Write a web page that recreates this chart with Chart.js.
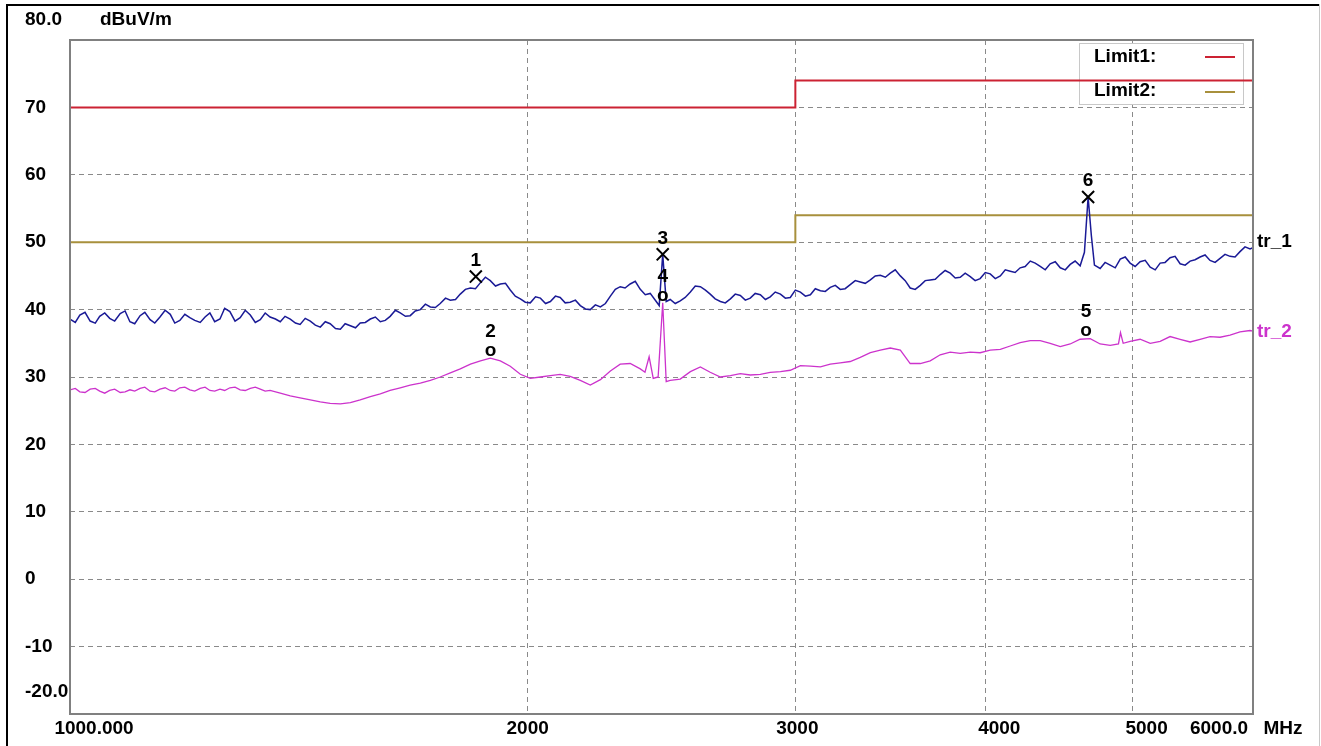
<!DOCTYPE html>
<html><head><meta charset="utf-8">
<script src="https://cdn.jsdelivr.net/npm/chart.js@4.4.1/dist/chart.umd.min.js"></script>
<style>html,body{margin:0;padding:0;background:#fff;overflow:hidden}canvas{display:block}</style>
</head><body>
<canvas id="c" width="1321" height="746"></canvas>
<script>
// ---- data ----
const freq1 = [1000,1015,1031,1046,1062,1079,1095,1112,1129,1146,1164,1181,1199,1218,1236,1255,1274,1294,1314,1334,1354,1375,1396,1417,1439,1461,1483,1506,1529,1552,1576,1600,1624,1649,1674,1700,1726,1752,1779,1806,1834,1862,1890,1919,1948,1978,2008,2039,2070,2101,2133,2166,2199,2233,2267,2301,2336,2372,2408,
  2441,2454,2467,
  2482,2520,2559,2598,2637,2678,2719,2760,2802,2845,2888,2933,2977,3023,3069,3116,3163,3211,3260,3310,3361,3412,3464,3517,3570,3625,3680,3736,3793,3851,3910,3969,4030,4092,4154,4217,4282,4347,4413,4481,4549,4618,
  4648,4674,4697,4719,
  4760,4833,4907,4981,5057,5135,5213,5292,5373,5455,5538,5622,5708,5795,5883,5973,6000];
const level1 = [38.6,39.2,38.3,39.0,38.7,39.4,38.2,39.1,38.5,38.9,39.3,38.4,38.8,38.1,39.5,38.6,39.7,38.8,39.2,38.5,38.9,38.2,38.6,37.8,38.3,37.4,37.9,37.1,37.6,38.0,38.6,38.2,39.0,39.5,39.1,40.0,40.4,40.9,41.4,42.3,43.2,44.0,44.3,43.8,42.9,41.6,41.0,41.7,41.2,41.8,41.1,40.6,40.0,40.4,42.0,43.4,43.8,43.0,42.4,
  40.6,48.2,41.2,
  41.5,41.3,42.6,43.4,42.3,41.2,41.6,42.1,41.7,42.2,41.9,42.3,41.8,42.6,42.2,42.8,43.3,43.0,43.7,44.1,44.4,45.1,45.4,45.0,43.2,43.6,44.4,45.2,45.4,44.8,44.9,44.6,45.3,45.0,45.7,46.2,47.2,46.4,46.8,46.2,46.7,46.5,
  48.5,56.7,51.0,46.6,
  46.1,46.6,47.5,46.9,47.1,46.3,46.9,47.7,46.8,47.2,47.8,47.3,47.6,47.9,48.6,49.0,49.2];
// in-between readings of the noisy peak trace
const freq1Fine = [1008,1023,1039,1054,1070,1087,1103,1120,1137,1155,1172,1190,1208,1227,1245,1264,1284,1304,1324,1344,1365,1385,1407,1428,1450,1472,1495,1517,1541,1564,1588,1612,1637,1662,1687,1713,1739,1766,1793,1820,1848,1876,1905,1934,1963,1993,2024,2055,2086,2117,2150,2183,2216,2250,2284,2318,2354,2390,
  2501,2539,2578,2618,2657,2698,2739,2781,2823,2867,2910,2955,3000,3046,3092,3139,3187,3235,3285,3335,3386,3438,3490,3543,3597,3652,3708,3764,3822,3880,3939,4000,4061,4123,4185,4249,4314,4380,4447,4515,4583,
  4796,4870,4944,5019,5096,5174,5252,5332,5414,5496,5580,5665,5751,5839,5928];
const level1Fine = [38.1,39.6,38.0,39.5,38.3,39.8,37.9,39.6,38.0,39.9,38.0,39.3,38.4,38.9,38.2,40.2,38.3,39.9,38.1,39.5,38.6,39.0,38.0,38.7,37.7,38.2,37.2,37.9,37.3,38.1,38.9,38.4,39.9,39.0,39.8,40.8,40.3,41.7,41.5,43.0,43.1,44.8,43.5,43.9,42.0,41.1,41.9,40.9,42.0,41.0,41.4,40.1,40.7,40.9,43.0,43.2,44.2,42.2,
  40.9,41.8,43.5,42.9,41.6,41.0,42.3,41.4,42.4,41.5,42.6,41.7,42.9,42.0,43.1,42.7,43.6,43.1,44.3,43.9,45.0,44.8,45.9,44.3,43.0,44.3,44.5,45.8,44.7,45.4,44.3,45.5,44.6,45.9,45.5,46.4,46.9,45.9,47.1,45.9,47.2,
  47.0,46.2,47.8,46.4,47.3,45.9,47.0,47.9,46.6,47.4,48.1,47.0,48.2,47.8,49.3];

const freq2 = [1000,1015,1031,1046,1062,1079,1095,1112,1129,1146,1164,1181,1199,1218,1236,1255,1274,1294,1314,1334,1354,1375,1396,1417,1439,1461,1483,1506,1529,1552,1576,1600,1624,1649,1674,1700,1726,1752,1779,1806,1834,1862,1890,1919,1948,1978,2008,2039,2070,2101,2133,2166,2199,2233,2267,2301,2336,2372,
  2389,2404,2419,2437,2454,2467,
  2482,2520,2559,2598,2637,2678,2719,2760,2802,2845,2888,2933,2977,3023,3069,3116,3163,3211,3260,3310,3361,3412,3464,3517,3570,3625,3680,3736,3793,3851,3910,3969,4030,4092,4154,4217,4282,4347,4413,4481,4549,4618,
  4689,4760,4833,4894,4909,4929,
  4981,5057,5135,5213,5292,5373,5455,5538,5622,5708,5795,5883,5973,6000];
const level2 = [28.1,27.8,28.2,27.9,28.0,27.7,28.1,28.3,27.9,28.2,28.0,28.4,28.1,28.3,28.0,28.2,28.4,28.1,28.3,28.2,28.0,27.6,27.2,26.9,26.6,26.3,26.1,26.0,26.2,26.6,27.1,27.5,28.0,28.4,28.8,29.1,29.5,30.0,30.6,31.2,31.9,32.4,32.8,32.4,31.6,30.4,29.8,30.0,30.2,30.4,30.1,29.5,28.8,29.6,30.9,31.9,32.0,31.2,
  30.7,33.0,29.8,30.0,41.0,29.3,
  29.5,29.7,30.8,31.5,30.7,30.0,30.2,30.5,30.3,30.4,30.7,30.8,31.0,31.7,31.6,31.5,31.9,32.1,32.3,32.9,33.6,34.0,34.3,34.0,32.0,32.0,32.4,33.3,33.7,33.5,33.7,33.6,34.0,34.1,34.6,35.1,35.4,35.4,35.0,34.5,34.9,35.6,
  35.7,34.9,34.7,34.9,36.6,35.0,
  35.3,35.6,35.0,35.3,36.0,35.6,35.2,35.6,36.0,35.9,36.2,36.7,36.9,36.8];
const freq2Fine = [1008,1023,1039,1054,1070,1087,1103,1120,1137,1155,1172,1190,1208,1227,1245,1264,1284,1304,1324,1344];
const level2Fine = [28.3,27.7,28.3,27.6,28.2,27.8,27.9,28.5,27.8,28.4,27.9,28.5,27.9,28.5,27.9,28.0,28.5,28.0,28.5,27.9];

const limitFreqs = [1000, 3000, 3000, 6000];
const limit1 = [70, 70, 74, 74];
const limit2 = [50, 50, 54, 54];

const markerNames  = ['1','2','3','4','5','6'];
const markerFreqs  = [1849, 1891, 2454, 2454, 4660, 4674];
const markerLevels = [44.9, 32.8, 48.2, 41.0, 35.8, 56.7];
const markerKinds  = ['x','o','x','o','o','x'];

const yTicks = [80,70,60,50,40,30,20,10,0,-10,-20];
const yTickLabels = ['80.0','70','60','50','40','30','20','10','0','-10','-20.0'];
const xTicks = [1000,2000,3000,4000,5000,6000];
const xTickLabels = ['1000.000','2000','3000','4000','5000','6000.0'];
const yUnit = 'dBuV/m';
const xUnit = 'MHz';
const traceNames = ['tr_1','tr_2'];
const legendNames = ['Limit1:','Limit2:'];

// ---- styles ----
const C_TR1 = '#1a1a96', C_TR2 = '#cc33cc', C_L1 = '#cc2233', C_L2 = '#a8903c';
const FONT = 'bold 19px "Liberation Sans", Arial, sans-serif';

const pts = (xs, ys) => xs.map((x,i)=>({x:x, y:ys[i]}));
const merged = (xa, ya, xb, yb) => pts(xa, ya).concat(pts(xb, yb)).sort((p,q)=>p.x-q.x);

const overlay = {
  id: 'overlay',
  beforeDraw(chart) {
    const ctx = chart.ctx;
    ctx.save();
    ctx.fillStyle = '#fff';
    ctx.fillRect(0,0,chart.width,chart.height);
    ctx.restore();
  },
  beforeDatasetsDraw(chart) {
    const ctx = chart.ctx;
    ctx.save();
    ctx.fillStyle = '#fff';
    ctx.fillRect(1079,43,165,62);
    ctx.strokeStyle = '#c8c8c8';
    ctx.lineWidth = 1;
    ctx.strokeRect(1079.5,43.5,164,61);
    ctx.font = FONT;
    ctx.fillStyle = '#000';
    ctx.textBaseline = 'middle';
    ctx.textAlign = 'left';
    ctx.fillText(legendNames[0], 1094, 57);
    ctx.fillText(legendNames[1], 1094, 91);
    ctx.lineWidth = 2;
    ctx.strokeStyle = C_L1;
    ctx.beginPath(); ctx.moveTo(1205,57); ctx.lineTo(1235,57); ctx.stroke();
    ctx.strokeStyle = C_L2;
    ctx.beginPath(); ctx.moveTo(1205,92); ctx.lineTo(1235,92); ctx.stroke();
    ctx.restore();
  },
  afterDatasetsDraw(chart) {
    const ctx = chart.ctx;
    const a = chart.chartArea;
    const xs = chart.scales.x, ys = chart.scales.y;
    ctx.save();
    ctx.strokeStyle = '#808080';
    ctx.lineWidth = 2;
    ctx.strokeRect(a.left, a.top, a.right - a.left, a.bottom - a.top);
    ctx.fillStyle = '#000';
    ctx.fillRect(6,4,2,742);
    ctx.fillRect(6,4,1313,2);
    ctx.fillStyle = '#c8c8c8';
    ctx.fillRect(1319,4,1,742);

    ctx.font = FONT;
    ctx.fillStyle = '#000';
    ctx.textBaseline = 'middle';
    ctx.textAlign = 'left';
    yTicks.forEach((v,i)=>{
      let y = ys.getPixelForValue(v);
      if (i === 0) y = 20;
      if (i === yTicks.length-1) y = y - 22;
      ctx.fillText(yTickLabels[i], 25, y);
    });
    ctx.fillText(yUnit, 100, 20);
    ctx.textAlign = 'center';
    const nudge = [24, 0, 2, 14, 14, -34];
    xTicks.forEach((v,i)=>{
      ctx.fillText(xTickLabels[i], xs.getPixelForValue(v) + nudge[i], 729);
    });
    ctx.fillText(xUnit, 1283, 729);
    markerFreqs.forEach((f,i)=>{
      const px = xs.getPixelForValue(f);
      const py = ys.getPixelForValue(markerLevels[i]);
      if (markerKinds[i] === 'o') {
        ctx.fillText('o', px, py - 7);
        ctx.fillText(markerNames[i], px, py - 26);
      } else {
        ctx.fillText(markerNames[i], px, py - 16);
      }
    });
    ctx.textAlign = 'left';
    ctx.fillStyle = '#000';
    ctx.fillText(traceNames[0], a.right + 4, ys.getPixelForValue(level1[level1.length-1]) - 6);
    ctx.fillStyle = C_TR2;
    ctx.fillText(traceNames[1], a.right + 4, ys.getPixelForValue(level2[level2.length-1]) + 1);
    ctx.restore();
  }
};

const gridColor = (edgeVals) => (ctx) => {
  const v = ctx.tick ? ctx.tick.value : null;
  return edgeVals.includes(v) ? 'rgba(0,0,0,0)' : '#8a8a8a';
};

new Chart(document.getElementById('c'), {
  type: 'line',
  data: {
    datasets: [
      { label: 'markers', data: pts(markerFreqs, markerLevels), showLine: false,
        pointStyle: 'crossRot', borderColor: '#000', backgroundColor: '#000', borderWidth: 2,
        pointRadius: (c)=> markerKinds[c.dataIndex] === 'x' ? 8.5 : 0, pointHoverRadius: 0 },
      { label: traceNames[0], data: merged(freq1, level1, freq1Fine, level1Fine), borderColor: C_TR1, borderWidth: 1.5, pointRadius: 0, tension: 0 },
      { label: traceNames[1], data: merged(freq2, level2, freq2Fine, level2Fine), borderColor: C_TR2, borderWidth: 1.3, pointRadius: 0, tension: 0 },
      { label: 'Limit1', data: pts(limitFreqs, limit1), borderColor: C_L1, borderWidth: 2, pointRadius: 0 },
      { label: 'Limit2', data: pts(limitFreqs, limit2), borderColor: C_L2, borderWidth: 2, pointRadius: 0 }
    ]
  },
  options: {
    responsive: false,
    animation: false,
    devicePixelRatio: 1,
    layout: { padding: { left: 70, right: 68, top: 40, bottom: 32 } },
    plugins: { legend: { display: false }, tooltip: { enabled: false } },
    scales: {
      x: {
        type: 'logarithmic', min: 1000, max: 6000,
        afterBuildTicks: (s) => { s.ticks = xTicks.map(v=>({value:v})); },
        afterFit: (s) => { s.height = 0; },
        ticks: { display: false },
        grid: { color: gridColor([1000,6000]), lineWidth: 1, drawTicks: false },
        border: { display: false, dash: [5,4] }
      },
      y: {
        type: 'linear', min: -20, max: 80,
        afterBuildTicks: (s) => { s.ticks = yTicks.map(v=>({value:v})); },
        afterFit: (s) => { s.width = 0; },
        ticks: { display: false },
        grid: { color: gridColor([80,-20]), lineWidth: 1, drawTicks: false },
        border: { display: false, dash: [5,4] }
      }
    }
  },
  plugins: [overlay]
});
</script>
</body></html>
